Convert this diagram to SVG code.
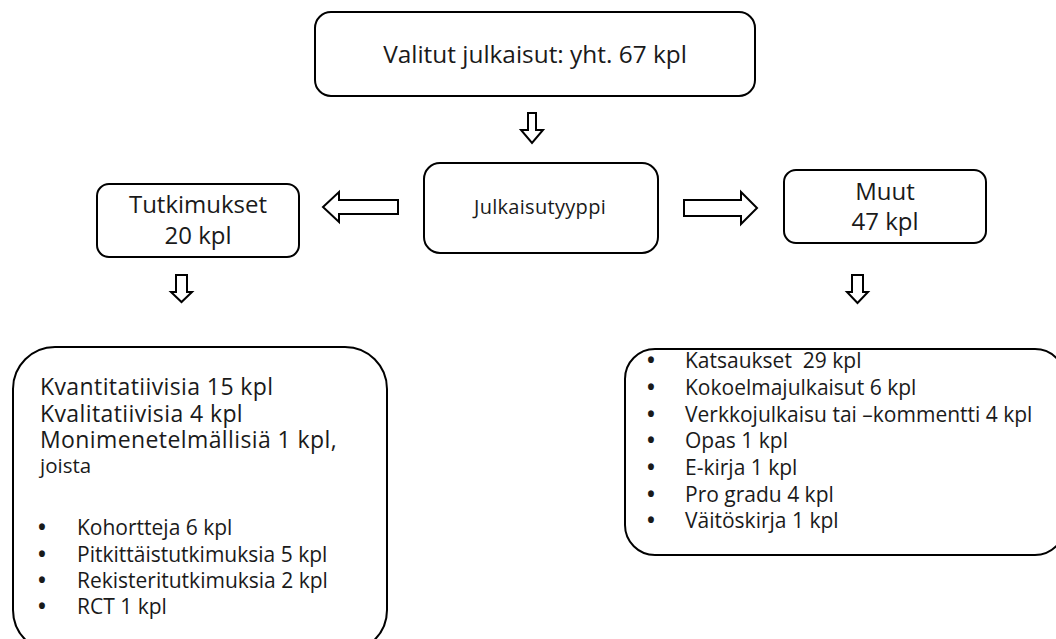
<svg xmlns="http://www.w3.org/2000/svg" width="1056" height="639" viewBox="0 0 1056 639">
<style>
.box{fill:#fff;stroke:#000;stroke-width:2}
.arr{fill:#fff;stroke:#000;stroke-width:2;stroke-linejoin:miter}
text{font-family:"Open Sans","Liberation Sans",sans-serif;fill:#1a1a1a;white-space:pre}
.c{text-anchor:middle}
.b{font-size:21px}
.dot{font-weight:bold}
.big{font-size:23px;letter-spacing:0.4px}
</style>
<rect width="1056" height="639" fill="#fff"/>
<g id="top">
<rect class="box" x="315" y="12" width="440" height="84" rx="16"/>
<text class="c" x="535" y="63" font-size="24.4">Valitut julkaisut: yht. 67 kpl</text>
</g>
<g id="type">
<rect class="box" x="424" y="163" width="234" height="90" rx="16"/>
<text class="c" x="540" y="214" font-size="20" letter-spacing="0.3">Julkaisutyyppi</text>
</g>
<g id="tutkimukset">
<rect class="box" x="97" y="184" width="202" height="73" rx="12"/>
<text class="c" x="198" y="213" font-size="24">Tutkimukset</text>
<text class="c" x="198" y="244" font-size="24">20 kpl</text>
</g>
<g id="muut">
<rect class="box" x="784" y="170" width="202" height="73" rx="12"/>
<text class="c" x="885" y="200" font-size="24">Muut</text>
<text class="c" x="885" y="230" font-size="24">47 kpl</text>
</g>
<g id="tutk-details">
<rect class="box" x="13" y="347" width="374" height="305" rx="42"/>
<text class="big" x="40" y="395">Kvantitatiivisia 15 kpl</text>
<text class="big" x="40" y="422">Kvalitatiivisia 4 kpl</text>
<text class="big" x="40" y="448">Monimenetelmällisiä 1 kpl,</text>
<text x="40" y="473" font-size="20.5">joista</text>
<g class="b">
<text class="dot" x="38" y="535">•</text><text x="77" y="535">Kohortteja 6 kpl</text>
<text class="dot" x="38" y="562">•</text><text x="77" y="562">Pitkittäistutkimuksia 5 kpl</text>
<text class="dot" x="38" y="588">•</text><text x="77" y="588">Rekisteritutkimuksia 2 kpl</text>
<text class="dot" x="38" y="614">•</text><text x="77" y="614">RCT 1 kpl</text>
</g>
</g>
<g id="muut-details">
<rect class="box" x="625" y="349" width="440" height="206" rx="30"/>
<g class="b">
<text class="dot" x="647" y="368">•</text><text x="685" y="368">Katsaukset  29 kpl</text>
<text class="dot" x="647" y="395">•</text><text x="685" y="395">Kokoelmajulkaisut 6 kpl</text>
<text class="dot" x="647" y="422">•</text><text x="685" y="422">Verkkojulkaisu tai –kommentti 4 kpl</text>
<text class="dot" x="647" y="448">•</text><text x="685" y="448">Opas 1 kpl</text>
<text class="dot" x="647" y="475">•</text><text x="685" y="475">E-kirja 1 kpl</text>
<text class="dot" x="647" y="502">•</text><text x="685" y="502">Pro gradu 4 kpl</text>
<text class="dot" x="647" y="528">•</text><text x="685" y="528">Väitöskirja 1 kpl</text>
</g>
</g>
<g id="connectors">
<path class="arr" d="M528,113 H536 V130 H543 L532,143 L521,130 H528 Z"/>
<path class="arr" d="M398,200 V214 H339 V222 L323,207 L339,192 V200 Z"/>
<path class="arr" d="M684,200 H741 V192 L757,208 L741,224 V216 H684 Z"/>
<path class="arr" d="M176,275 H187 V292 H192 L181.5,302 L171,292 H176 Z"/>
<path class="arr" d="M852,275 H863 V292 H868 L857.5,303 L847,292 H852 Z"/>
</g>
</svg>
